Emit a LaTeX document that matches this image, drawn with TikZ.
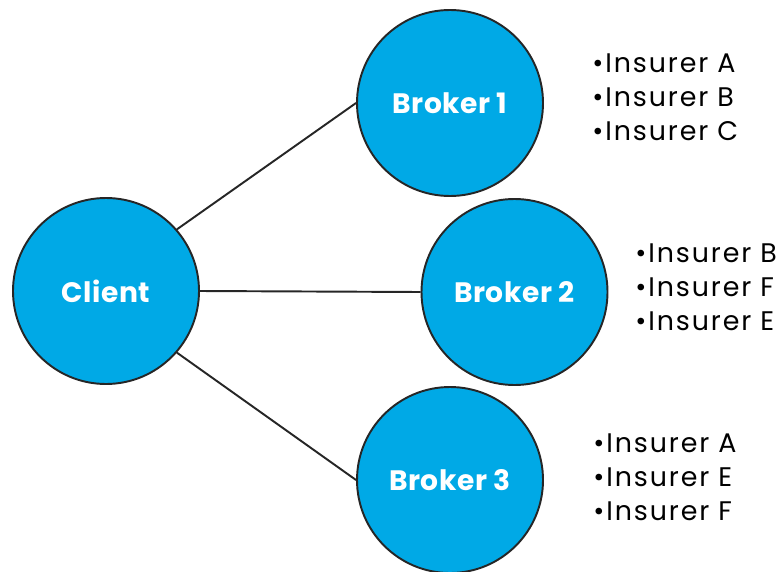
\documentclass[tikz,border=0pt]{standalone}
\usepackage{fontspec}
\setmainfont{Poppins}
\newfontfamily\partyfont{Poppins}[LetterSpace=2]
\newfontfamily\listfont{Poppins}[LetterSpace=7]
\definecolor{brokerblue}{RGB}{0,169,230}
\begin{document}
\begin{tikzpicture}[
  party/.style={circle, draw=black!85, line width=1.1pt, fill=brokerblue, minimum size=3.72cm, inner sep=0pt, text=white, font=\partyfont\bfseries\fontsize{16}{18}\selectfont},
  insurers/.style={anchor=west, align=left, inner sep=0pt, font=\listfont\fontsize{15.3}{19.4}\selectfont},
  link/.style={line width=1.1pt, black!85}
]
\useasboundingbox (0,0) rectangle (15.6,11.42);

% Client on the left
\node[party] (client) at (2.12, 5.60) {Client};

% Brokers, one above the other
\node[party] (broker1) at (9.00, 9.36) {Broker 1};
\node[party] (broker2) at (10.29, 5.58) {Broker 2};
\node[party] (broker3) at (9.00, 1.82) {Broker 3};

% Insurers each broker works with
\node[insurers] (list1) at (11.84, 9.48) {•Insurer A\\•Insurer B\\•Insurer C};
\node[insurers] (list2) at (12.70, 5.68) {•Insurer B\\•Insurer F\\•Insurer E};
\node[insurers] (list3) at (11.86, 1.88) {•Insurer A\\•Insurer E\\•Insurer F};

% Links
\draw[link] (client.41) -- (broker1.west);
\draw[link] (client.east) -- (broker2.west);
\draw[link] (client.-41) -- (broker3.west);

\end{tikzpicture}
\end{document}
